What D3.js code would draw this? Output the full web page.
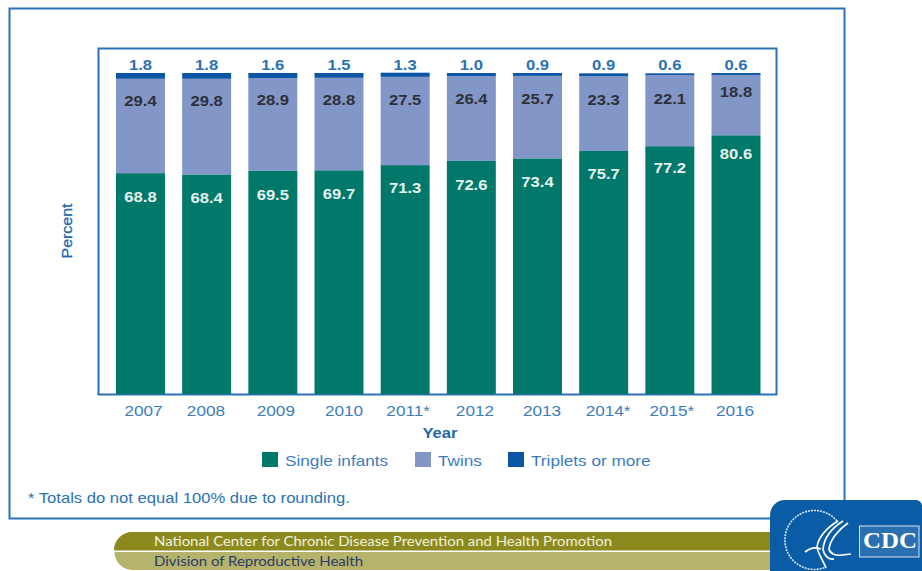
<!DOCTYPE html>
<html>
<head>
<meta charset="utf-8">
<script src="https://cdn.jsdelivr.net/npm/d3@7"></script>
<style>
  html, body { margin: 0; padding: 0; background: #fff; }
  #chart { width: 922px; height: 571px; }
  text { font-family: "Liberation Sans", Arial, sans-serif; }
</style>
</head>
<body>
<div id="chart"></div>
<script>
// DATA
const years = ["2007","2008","2009","2010","2011*","2012","2013","2014*","2015*","2016"];
const singleInfants = [68.8,68.4,69.5,69.7,71.3,72.6,73.4,75.7,77.2,80.6];
const twins = [29.4,29.8,28.9,28.8,27.5,26.4,25.7,23.3,22.1,18.8];
const triplets = [1.8,1.8,1.6,1.5,1.3,1.0,0.9,0.9,0.6,0.6];
const seriesNames = ["Single infants","Twins","Triplets or more"];
const seriesColors = ["#00786a","#8296c8","#0a56a4"];

// label placement in the original is a bit uneven, so these are kept by hand
const singleLabelY = [201.7,203,200,199,193.3,190,186.7,179,172.7,159];
const twinsLabelY = [106,106,105,105,105,104,104,104.5,103.5,97];
const tickNudge = [3,-0.7,3,5,3,3.6,4.5,4.4,2,-1];

const width = 922;
const height = 571;
const blue = "#2a72b5";
const textBlue = "#3a7dbd";

// the reference text is stretched sideways, about 14% wider than the plain font
const stretch = 1.145;
function widen(selection, factor) {
  selection.each(function() {
    this.setAttribute("textLength", this.getComputedTextLength() * (factor || stretch));
    this.setAttribute("lengthAdjust", "spacingAndGlyphs");
  });
}
function fitTo(selection, length) {
  selection.attr("textLength", length).attr("lengthAdjust", "spacingAndGlyphs");
}

const svg = d3.select("#chart")
  .append("svg")
  .attr("width", width)
  .attr("height", height);

// 1. OUTER FRAME + PLOT FRAME
svg.append("rect")
  .attr("x", 9.5).attr("y", 8.5)
  .attr("width", 835).attr("height", 510)
  .attr("fill", "none")
  .attr("stroke", blue)
  .attr("stroke-width", 2);

svg.append("path")
  .attr("d", "M98.5,394.5V48.5H776.5V394.5Z")
  .attr("fill", "none")
  .attr("stroke", blue)
  .attr("stroke-width", 2);

// 2. SCALES
const xScale = d3.scaleBand()
  .domain(years)
  .range([116, 760.5])
  .paddingInner(0.26)
  .paddingOuter(0);

const yScale = d3.scaleLinear()
  .domain([0, 100])
  .range([394, 73]);

// 3. STACK THE DATA
const rows = years.map(function(y, i) {
  return { year: y, "Single infants": singleInfants[i], "Twins": twins[i], "Triplets or more": triplets[i] };
});
const stacked = d3.stack().keys(seriesNames)(rows);

// 4. DRAW BARS
svg.selectAll(".layer")
  .data(stacked)
  .enter()
  .append("g")
    .attr("class", "layer")
    .attr("fill", function(d, i) { return seriesColors[i]; })
  .selectAll("rect")
  .data(function(d) { return d; })
  .enter()
  .append("rect")
    .attr("x", function(d) { return xScale(d.data.year); })
    .attr("y", function(d) { return yScale(d[1]); })
    .attr("width", xScale.bandwidth())
    .attr("height", function(d) { return yScale(d[0]) - yScale(d[1]); });

// 5. VALUE LABELS
const cx = function(y) { return xScale(y) + xScale.bandwidth() / 2; };

function valueLabels(name, values, yPos, color) {
  svg.selectAll("." + name)
    .data(years)
    .enter()
    .append("text")
      .attr("class", name)
      .attr("x", cx)
      .attr("y", yPos)
      .attr("text-anchor", "middle")
      .attr("font-size", 14.5)
      .attr("font-weight", 700)
      .attr("fill", color)
      .text(function(d, i) { return values[i].toFixed(1); })
      .call(widen);
}

valueLabels("labelSingle", singleInfants, function(d, i) { return singleLabelY[i]; }, "#e6f2ef");
valueLabels("labelTwins", twins, function(d, i) { return twinsLabelY[i]; }, "#2f3038");
valueLabels("labelTriplets", triplets, function() { return 70; }, blue);

// 6. AXIS
const xAxis = svg.append("g")
  .attr("transform", "translate(0,394)")
  .call(d3.axisBottom(xScale).tickSize(0).tickPadding(11));
xAxis.select(".domain").remove();
xAxis.selectAll("text")
  .attr("dx", function(d, i) { return tickNudge[i]; })
  .attr("font-size", 15)
  .attr("fill", textBlue)
  .style("font-family", "'Liberation Sans', Arial, sans-serif")
  .call(widen);

svg.append("text")
  .attr("x", 440).attr("y", 438)
  .attr("text-anchor", "middle")
  .attr("font-size", 14.5)
  .attr("font-weight", 700)
  .attr("fill", "#1f68ad")
  .text("Year")
  .call(widen);

svg.append("text")
  .attr("transform", "rotate(-90)")
  .attr("x", -231).attr("y", 72)
  .attr("text-anchor", "middle")
  .attr("font-size", 15)
  .attr("stroke", "#1f68ad")
  .attr("stroke-width", 0.3)
  .attr("fill", "#1f68ad")
  .text("Percent")
  .call(fitTo, 55);

// 7. LEGEND
const legendX = [262, 415, 508];
const legend = svg.selectAll(".legendItem")
  .data(seriesNames)
  .enter()
  .append("g")
    .attr("class", "legendItem")
    .attr("transform", function(d, i) { return `translate(${legendX[i]},452)`; });

legend.append("rect")
  .attr("width", 16).attr("height", 15)
  .attr("fill", function(d, i) { return seriesColors[i]; });

legend.append("text")
  .attr("x", 23).attr("y", 14)
  .attr("font-size", 15)
  .attr("fill", textBlue)
  .text(function(d) { return d; })
  .call(widen);

// 8. FOOTNOTE
svg.append("text")
  .attr("x", 28).attr("y", 503)
  .attr("font-size", 14.5)
  .attr("fill", blue)
  .text("* Totals do not equal 100% due to rounding.")
  .call(widen);

// 9. FOOTER BANDS
svg.append("path")
  .attr("d", "M772,532H132A18,18 0 0 0 114,550.5H772Z")
  .attr("fill", "#8c8a1e");
svg.append("path")
  .attr("d", "M772,552H114.5A18,18 0 0 0 132,570H772Z")
  .attr("fill", "#b5b36c");
svg.append("text")
  .attr("x", 154).attr("y", 545.7)
  .attr("font-size", 13.5)
  .attr("fill", "#f2f1dc")
  .style("font-family", "Lato, sans-serif")
  .text("National Center for Chronic Disease Prevention and Health Promotion")
  .call(fitTo, 458);
svg.append("text")
  .attr("x", 154).attr("y", 565.7)
  .attr("font-size", 13.5)
  .attr("fill", "#2b3a68")
  .style("font-family", "Lato, sans-serif")
  .text("Division of Reproductive Health")
  .call(fitTo, 209);

// 10. CDC LOGO
svg.append("path")
  .attr("d", "M916,500H785A15,15 0 0 0 770,515V571H922V506A6,6 0 0 0 916,500Z")
  .attr("fill", "#0a5ca6");

// seal ring, open on the right
svg.append("path")
  .attr("d", "M837,521A29.5,29.5 0 1 0 825,567.5")
  .attr("fill", "none")
  .attr("stroke", "#dbe7f3")
  .attr("stroke-width", 1.6)
  .attr("stroke-dasharray", "2 1");

// eagle, drawn as a few strokes
const eagle = [
  "M848,523C838,530 830,540 829,549C830,554 836,556 842,555L851,554",
  "M843,521C832,528 824,538 823,549C824,556 829,560 834,559",
  "M838,521C826,528 818,538 817,547C818,554 823,560 826,568",
  "M805,552C810,548 816,547 821,549"
];
svg.selectAll(".eagle")
  .data(eagle)
  .enter()
  .append("path")
    .attr("class", "eagle")
    .attr("d", function(d) { return d; })
    .attr("fill", "none")
    .attr("stroke", "#fff")
    .attr("stroke-width", 1.7);

svg.append("rect")
  .attr("x", 859.5).attr("y", 526)
  .attr("width", 59.5).attr("height", 31)
  .attr("fill", "#2a70b0")
  .attr("stroke", "#d5e3f0")
  .attr("stroke-width", 1);
svg.append("text")
  .attr("x", 863).attr("y", 547.5)
  .attr("font-size", 24)
  .attr("font-weight", 700)
  .attr("fill", "#fff")
  .style("font-family", "'Liberation Serif', serif")
  .text("CDC")
  .call(fitTo, 54);
</script>
</body>
</html>
